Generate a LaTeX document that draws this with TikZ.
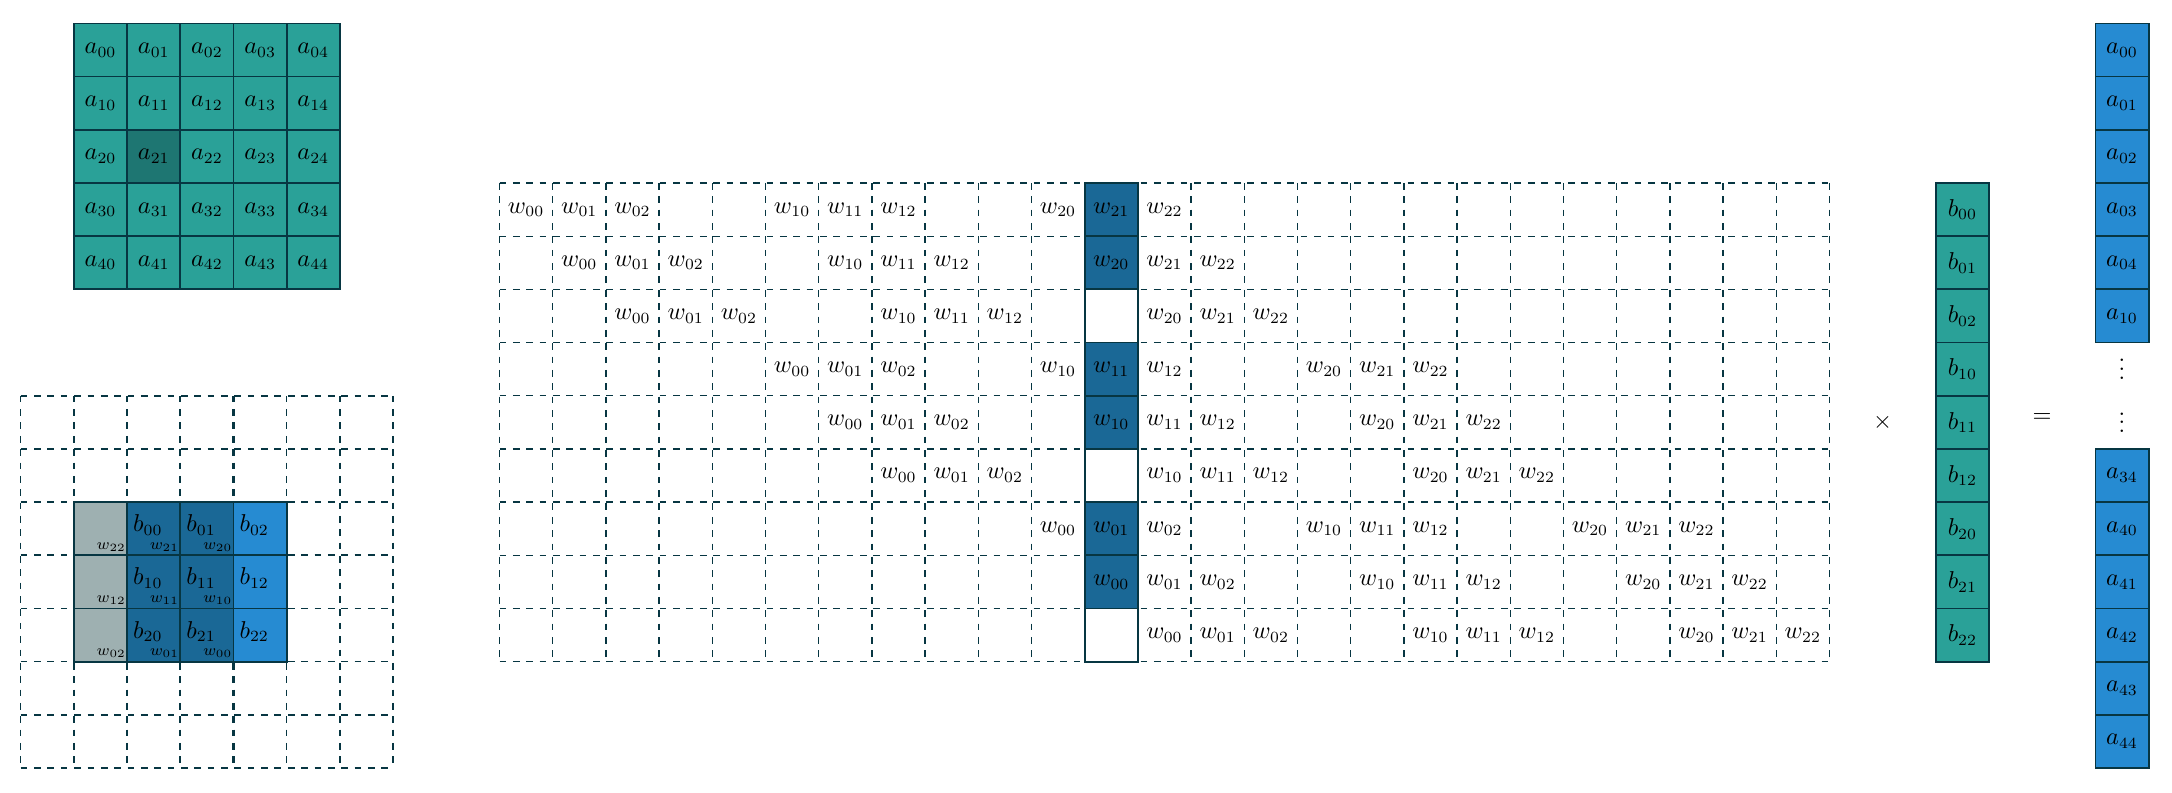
\documentclass[tikz,border=0pt]{standalone}
\usepackage{xcolor}
\definecolor{linec}{HTML}{073642}
\definecolor{tealc}{HTML}{2AA198}
\definecolor{tealdk}{HTML}{1E7672}
\definecolor{bluec}{HTML}{268BD2}
\definecolor{bluedk}{HTML}{1A6896}
\definecolor{grayc}{HTML}{9EB0B1}
\begin{document}
\begin{tikzpicture}[x=0.84cm,y=0.84cm,
  every node/.style={font=\fontsize{10.6pt}{12.5pt}\selectfont},
  cellbox/.style={draw=linec, line width=0.8pt, minimum size=0.84cm, inner sep=0pt, anchor=center},
  thindash/.style={draw=linec, dashed, line width=0.6pt},
  thickdash/.style={draw=linec, dashed, line width=1pt},
  txt/.style={inner sep=0pt, anchor=center},
  dotsnode/.style={inner sep=0pt, anchor=center, text height=9.4pt, text depth=0pt},
  wlab/.style={font=\fontsize{7.4pt}{9pt}\selectfont, inner xsep=0.8pt, inner ysep=2pt, anchor=south east},
  blab/.style={inner sep=0pt, anchor=center}]
\useasboundingbox (-0.39,0.44) rectangle (40.44,-14.45);

% ---------- grid A ----------
\foreach \r in {0,...,4}{
  \foreach \c in {0,...,4}{
    \ifnum\r\c=21 \def\fc{tealdk}\else\def\fc{tealc}\fi
    \node[cellbox, fill=\fc] (A\r\c) at (\c+1.5,-\r-0.5) {$a_{\r\c}$};
  }
}

% ---------- bottom grid ----------
\foreach \y in {-11,-12,-13}{\draw[thindash] (0,\y) -- (7,\y);}
\foreach \y in {-7,-8,-9,-10,-14}{\draw[thickdash] (0,\y) -- (7,\y);}
\foreach \x in {0,5,6,7}{\draw[thindash] (\x,-7) -- (\x,-14);}
\foreach \x in {1,2,3,4}{\draw[thickdash] (\x,-7) -- (\x,-14);}

\foreach \i in {0,1,2}{
  \node[cellbox, fill=grayc] (G\i0) at (1.5,-9.5-\i) {};
  \node[cellbox, fill=bluedk] (G\i1) at (2.5,-9.5-\i) {};
  \node[cellbox, fill=bluedk] (G\i2) at (3.5,-9.5-\i) {};
  \node[cellbox, fill=bluec] (G\i3) at (4.5,-9.5-\i) {};
}
\foreach \i in {0,1,2}{
  \foreach \j in {0,1,2}{
    \pgfmathtruncatemacro\cc{\j+1}
    \node[blab] (BL\i\j) at ([shift={(-0.11,0.07)}]G\i\cc.center) {$b_{\i\j}$};
    \pgfmathtruncatemacro\wa{2-\i}
    \pgfmathtruncatemacro\wb{2-\j}
    \node[wlab] (WL\i\j) at (G\i\j.south east) {$w_{\wa\wb}$};
  }
}

% ---------- middle matrix ----------
\foreach \y in {3,...,12}{\draw[thindash] (9,-\y) -- (34,-\y);}
\foreach \x in {9,...,34}{\draw[thindash] (\x,-3) -- (\x,-12);}
\foreach \r in {0,...,8}{
  \pgfmathtruncatemacro\mm{mod(\r,3)}
  \ifnum\mm=2 \def\fc{white}\else\def\fc{bluedk}\fi
  \node[cellbox, fill=\fc] (H\r) at (20.5,-3.5-\r) {};
}
\foreach \r in {0,...,8}{
  \pgfmathtruncatemacro\pp{floor(\r/3)}
  \pgfmathtruncatemacro\qq{mod(\r,3)}
  \foreach \i in {0,1,2}{
    \foreach \j in {0,1,2}{
      \pgfmathtruncatemacro\cc{(\pp+\i)*5+\qq+\j}
      \node[txt] (M\r-\cc) at (9.5+\cc,-3.5-\r) {$w_{\i\j}$};
    }
  }
}

% ---------- vector b ----------
\foreach \i in {0,1,2}{
  \foreach \j in {0,1,2}{
    \pgfmathtruncatemacro\kk{3*\i+\j}
    \node[cellbox, fill=tealc] (B\i\j) at (36.5,-3.5-\kk) {$b_{\i\j}$};
  }
}

% ---------- output vector ----------
\foreach \lab [count=\k from 0] in {00,01,02,03,04,10}{
  \node[cellbox, fill=bluec] (O\lab) at (39.5,-0.5-\k) {$a_{\lab}$};
}
\foreach \lab [count=\k from 0] in {34,40,41,42,43,44}{
  \node[cellbox, fill=bluec] (O\lab) at (39.5,-8.5-\k) {$a_{\lab}$};
}
\node[dotsnode] (dotsA) at (39.5,-6.5) {$\vdots$};
\node[dotsnode] (dotsB) at (39.5,-7.5) {$\vdots$};

\node[txt] (times) at (35,-7.5) {$\times$};
\node[txt] (equals) at (38,-7.42) {$=$};
\end{tikzpicture}
\end{document}
